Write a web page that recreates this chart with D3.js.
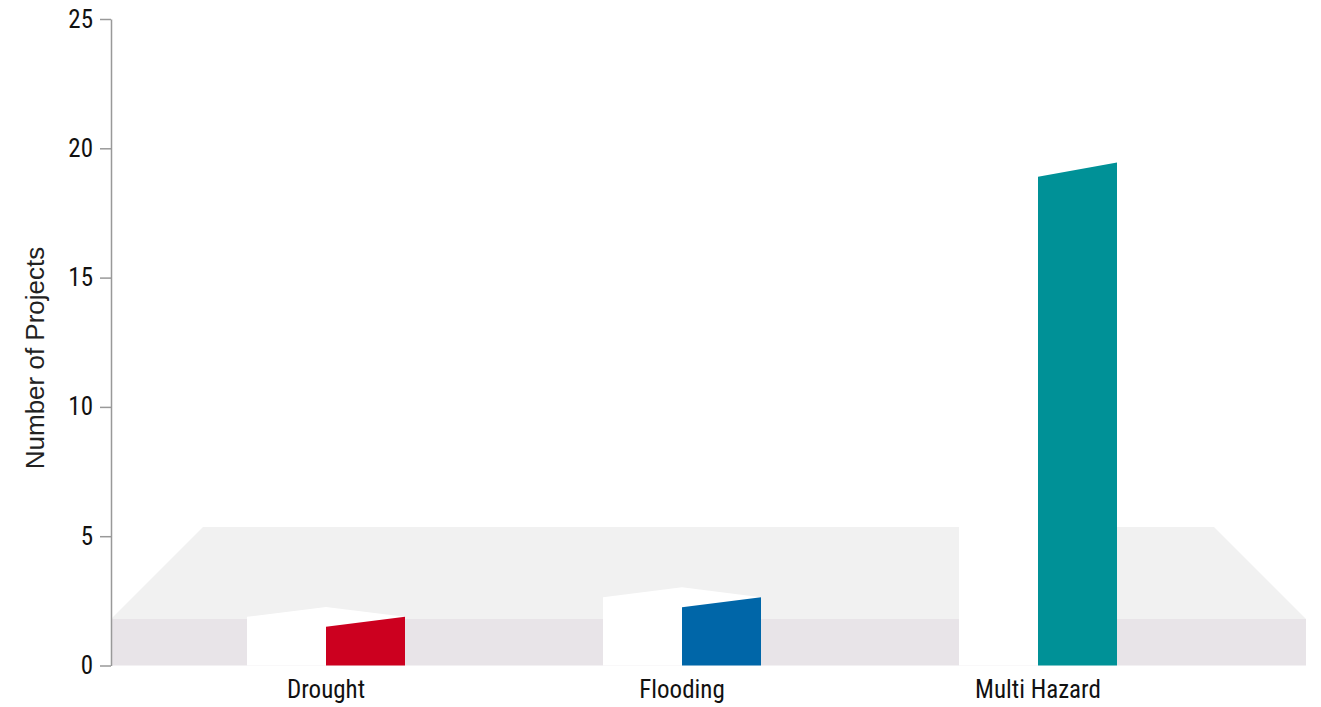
<!DOCTYPE html>
<html>
<head>
<meta charset="utf-8">
<script src="https://cdn.jsdelivr.net/npm/d3@7"></script>
<style>
  body { margin: 0; background: #fff; }
</style>
</head>
<body>
<div id="chart"></div>
<script>
var categories = ["Drought", "Flooding", "Multi Hazard"];
var projects = [1.5, 2.25, 18.9];
var barColors = ["#cc001f", "#0066a8", "#009197"];
var yTicks = [0, 5, 10, 15, 20, 25];

var width = 1321, height = 707;

var svg = d3.select("#chart")
    .append("svg")
    .attr("width", width)
    .attr("height", height);

var x = d3.scaleBand()
    .domain(categories)
    .range([148, 1216])
    .paddingInner(0);

var y = d3.scaleLinear()
    .domain([0, 25])
    .range([665.5, 19]);

// floor (fake 3d)
var floorLeft = 111, floorRight = 1306, floorTop = 619, depth = 92;
svg.append("polygon")
    .attr("points", [
        [floorLeft, floorTop], [floorLeft + depth, floorTop - depth],
        [floorRight - depth, floorTop - depth], [floorRight, floorTop]
    ].join(" "))
    .style("fill", "#f1f1f1");
svg.append("rect")
    .attr("x", floorLeft)
    .attr("y", floorTop)
    .attr("width", floorRight - floorLeft)
    .attr("height", y(0) - floorTop)
    .style("fill", "#e8e4e8");

var barW = 79;
var slant = function(v){ return 9.5 + 0.25 * v; };

var bars = svg.selectAll("g.bar")
    .data(categories)
    .enter()
    .append("g")
    .attr("class", "bar");

// white side / top face
bars.append("polygon")
    .attr("points", function(d, i){
        var cx = x(d) + x.bandwidth() / 2, yl = y(projects[i]), s = slant(projects[i]);
        return [[cx - barW, y(0)], [cx - barW, yl - s], [cx, yl - 2 * s],
                [cx + barW, yl - s], [cx + barW, y(0)]].join(" ");
    })
    .style("fill", "#ffffff");

// coloured front face
bars.append("polygon")
    .attr("points", function(d, i){
        var cx = x(d) + x.bandwidth() / 2, yl = y(projects[i]), s = slant(projects[i]);
        return [[cx, y(0)], [cx, yl], [cx + barW, yl - s], [cx + barW, y(0)]].join(" ");
    })
    .style("fill", function(d, i){ return barColors[i]; });

// y axis
var yAxis = svg.append("g")
    .attr("transform", "translate(111,0)")
    .call(d3.axisLeft(y).tickValues(yTicks).tickSize(11).tickSizeOuter(0).tickPadding(7));
yAxis.select(".domain").attr("stroke", "#999").attr("stroke-width", 1.5);
yAxis.selectAll(".tick line").attr("stroke", "#999").attr("stroke-width", 1.5);
yAxis.selectAll(".tick text")
    .attr("fill", "#111")
    .style("font-family", "'Roboto Condensed', 'Liberation Sans Narrow', sans-serif")
    .style("font-size", "25px");

// category labels
svg.selectAll("text.cat")
    .data(categories)
    .enter()
    .append("text")
    .attr("class", "cat")
    .attr("x", function(d){ return x(d) + x.bandwidth() / 2; })
    .attr("y", 698)
    .attr("text-anchor", "middle")
    .style("font-family", "'Roboto Condensed', 'Liberation Sans Narrow', sans-serif")
    .style("font-size", "25px")
    .style("fill", "#111")
    .text(function(d){ return d; });

svg.append("text")
    .attr("transform", "translate(44,358) rotate(-90)")
    .attr("text-anchor", "middle")
    .style("font-family", "'Liberation Sans', Arial, sans-serif")
    .style("font-size", "26px")
    .style("fill", "#222")
    .text("Number of Projects");
</script>
</body>
</html>
